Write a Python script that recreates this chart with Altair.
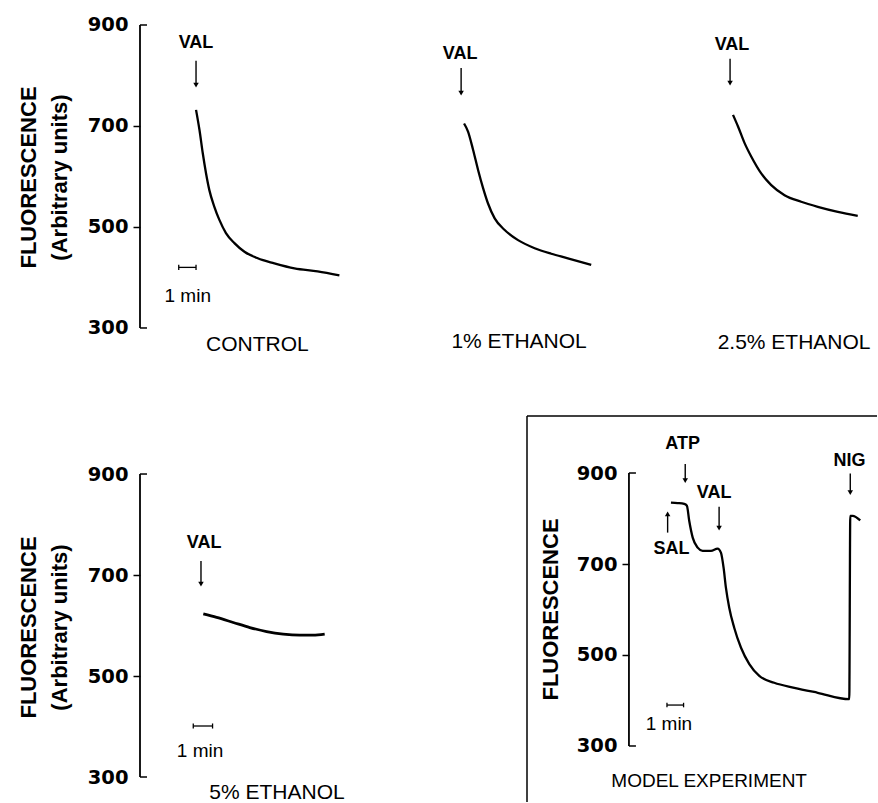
import altair as alt
import pandas as pd

# ---------------- data (time in minutes after addition, fluorescence a.u.) ----------------
ctrl_t = [0, 0.2, 0.39, 0.58, 0.77, 1.06, 1.35, 1.73, 2.22, 2.8, 3.57, 4.53, 5.69, 7.03, 8.29]
ctrl_v = [732, 692, 646, 606, 573, 540, 514, 488, 468, 451, 438, 428, 418, 412, 404]

eth1_t = [0, 0.23, 0.52, 0.81, 1.10, 1.38, 1.77, 2.35, 3.12, 4.08, 5.04, 6.0, 7.35]
eth1_v = [705, 689, 653, 613, 577, 547, 517, 494, 474, 458, 447, 438, 425]

eth25_t = [0, 0.29, 0.67, 1.06, 1.63, 2.21, 2.98, 3.94, 4.9, 6.06, 7.21]
eth25_v = [722, 699, 666, 639, 606, 583, 563, 550, 540, 530, 522]

eth5_t = [0, 0.69, 1.55, 2.41, 3.28, 4.14, 5.0, 5.69, 6.29]
eth5_v = [623, 616, 606, 596, 588, 583, 581, 581, 583]

model_t = [0, 0.4, 0.8, 0.96, 1.1, 1.31, 1.61, 1.91, 2.41, 2.81, 3.01, 3.17, 3.31, 3.51, 3.81,
           4.22, 4.72, 5.32, 6.22, 7.43, 8.84, 10.74, 10.8, 10.94, 11.4]
model_v = [835, 834, 832, 828, 795, 758, 736, 729, 729, 734, 725, 692, 648, 604, 560,
           516, 480, 454, 439, 428, 417, 403, 806, 806, 796]

y_ticks = [300, 500, 700, 900]

panel_names = ["CONTROL", "1% ETHANOL", "2.5% ETHANOL", "5% ETHANOL", "MODEL EXPERIMENT"]

# annotation anchors (minutes, fluorescence)
tags = {
    "ctrl": [("VAL", 0.0, 864)],
    "eth1": [("VAL", -0.23, 843)],
    "eth25": [("VAL", -0.06, 860)],
    "eth5": [("VAL", 0.04, 764)],
    "model": [("ATP", 0.7, 964), ("VAL", 2.6, 857), ("SAL", 0.04, 733), ("NIG", 10.75, 927)],
}
down_arrows = {
    "ctrl": [(0.0, 829, 781)],
    "eth1": [(-0.17, 815, 765)],
    "eth25": [(-0.17, 833, 785)],
    "eth5": [(-0.12, 728, 682)],
    "model": [(0.86, 920, 883), (2.9, 826, 779), (10.8, 899, 857)],
}
up_arrows = {"model": [(-0.2, 769, 810)]}
captions = {
    "ctrl": ("CONTROL", 3.55, 266),
    "eth1": ("1% ETHANOL", 3.18, 272),
    "eth25": ("2.5% ETHANOL", 3.53, 270),
    "eth5": ("5% ETHANOL", 3.82, 268),
    "model": ("MODEL EXPERIMENT", 2.3, 223),
}
bars = {  # 1 min scale bar: t start, t end, level ; label position
    "ctrl": (-1.0, 0.0, 420, -0.48, 364),
    "eth5": (-0.52, 0.48, 401, -0.17, 351),
    "model": (-0.24, 0.76, 390, -0.12, 348),
}

BLACK = "black"


def make_panel(key, t, v, xdom, ydom, w, h, ppm, axis=None, line_w=2.3, caption_size=21, box=False):
    xs = alt.Scale(domain=xdom, nice=False, zero=False)
    ys = alt.Scale(domain=ydom, nice=False, zero=False)
    if axis is None:
        y_axis = None
    else:
        y_axis = alt.Axis(
            values=y_ticks, domain=False, ticks=True, tickSize=7, tickWidth=1.5,
            tickColor={"condition": {"test": "datum.value == 500 || datum.value == 700", "value": "black"},
                       "value": "transparent"},
            labelPadding=5, labelFont="DejaVu Sans", labelFontWeight="bold", labelFontSize=19.5,
            labelColor=BLACK, grid=False,
            title=axis["title"], titleY=axis["titleY"], titlePadding=axis["titlePadding"],
            titleFont="Liberation Sans", titleFontWeight="bold", titleFontSize=22, titleColor=BLACK,
            titleLineHeight=31, offset=axis.get("offset", 0),
        )
    X = alt.X("t:Q", scale=xs, axis=None)
    Y = alt.Y("v:Q", scale=ys, axis=y_axis)

    layers = []
    layers.append(
        alt.Chart(pd.DataFrame({"t": t, "v": v}))
        .mark_line(color=BLACK, strokeWidth=line_w, interpolate="monotone")
        .encode(x=X, y=Y)
    )
    if axis is not None:
        at = axis["at"]
        cap = 7.0 / ppm
        layers.append(
            alt.Chart(pd.DataFrame({"t": [at], "v": [300], "v2": [900]}))
            .mark_rule(color=BLACK, strokeWidth=1.8)
            .encode(x=X, y=Y, y2="v2:Q")
        )
        layers.append(
            alt.Chart(pd.DataFrame({"t": [at, at], "t2": [at + cap, at + cap], "v": [300, 900]}))
            .mark_rule(color=BLACK, strokeWidth=1.5)
            .encode(x=X, x2="t2:Q", y=Y)
        )
    # tags
    tg = tags.get(key, [])
    if tg:
        layers.append(
            alt.Chart(pd.DataFrame({"label": [a[0] for a in tg], "t": [a[1] for a in tg], "v": [a[2] for a in tg]}))
            .mark_text(font="Liberation Sans", fontWeight="bold", fontSize=18, color=BLACK,
                       align="center", baseline="middle")
            .encode(x=X, y=Y, text="label:N")
        )
    da = down_arrows.get(key, [])
    if da:
        df = pd.DataFrame({"t": [a[0] for a in da], "v": [a[1] for a in da], "v2": [a[2] for a in da]})
        layers.append(alt.Chart(df).mark_rule(color=BLACK, strokeWidth=1.4).encode(x=X, y=Y, y2="v2:Q"))
        layers.append(
            alt.Chart(pd.DataFrame({"t": df["t"], "v": df["v2"]}))
            .mark_point(shape="triangle-down", filled=True, size=30, color=BLACK, opacity=1)
            .encode(x=X, y=Y)
        )
    ua = up_arrows.get(key, [])
    if ua:
        df = pd.DataFrame({"t": [a[0] for a in ua], "v": [a[1] for a in ua], "v2": [a[2] for a in ua]})
        layers.append(alt.Chart(df).mark_rule(color=BLACK, strokeWidth=1.4).encode(x=X, y=Y, y2="v2:Q"))
        layers.append(
            alt.Chart(pd.DataFrame({"t": df["t"], "v": df["v2"]}))
            .mark_point(shape="triangle-up", filled=True, size=30, color=BLACK, opacity=1)
            .encode(x=X, y=Y)
        )
    # caption
    c = captions[key]
    layers.append(
        alt.Chart(pd.DataFrame({"label": [c[0]], "t": [c[1]], "v": [c[2]]}))
        .mark_text(font="Liberation Sans", fontSize=caption_size, color=BLACK, align="center", baseline="middle")
        .encode(x=X, y=Y, text="label:N")
    )
    # scale bar
    if key in bars:
        b0, b1, lvl, lt, lv = bars[key]
        layers.append(
            alt.Chart(pd.DataFrame({"t": [b0], "t2": [b1], "v": [lvl]}))
            .mark_rule(color=BLACK, strokeWidth=1.3).encode(x=X, x2="t2:Q", y=Y)
        )
        dv = 5.0
        layers.append(
            alt.Chart(pd.DataFrame({"t": [b0, b1], "v": [lvl - dv, lvl - dv], "v2": [lvl + dv, lvl + dv]}))
            .mark_rule(color=BLACK, strokeWidth=1.3).encode(x=X, y=Y, y2="v2:Q")
        )
        layers.append(
            alt.Chart(pd.DataFrame({"label": ["1 min"], "t": [lt], "v": [lv]}))
            .mark_text(font="Liberation Sans", fontSize=19, color=BLACK, align="center", baseline="middle")
            .encode(x=X, y=Y, text="label:N")
        )
    if box:
        layers.append(
            alt.Chart(pd.DataFrame({"t": [xdom[0]]})).mark_rule(color=BLACK, strokeWidth=1.5)
            .encode(x=alt.value(0), y=alt.value(0), y2=alt.value(h))
        )
        layers.append(
            alt.Chart(pd.DataFrame({"t": [xdom[0]]})).mark_rule(color=BLACK, strokeWidth=1.5)
            .encode(x=alt.value(0), x2=alt.value(w), y=alt.value(0))
        )
    return alt.layer(*layers).properties(width=w, height=h)


# top row: 17.3 px per minute, 0.505 px per unit
top_dom = [236.6, 929.7]
p1 = make_panel("ctrl", ctrl_t, ctrl_v, [-3.24, 9.25], top_dom, 216, 350, 17.3,
                axis={"title": ["FLUORESCENCE", "(Arbitrary units)"], "titleY": 167, "titlePadding": 16, "at": -3.24})
p2 = make_panel("eth1", eth1_t, eth1_v, [-5.09, 8.32], top_dom, 232, 350, 17.3)
p3 = make_panel("eth25", eth25_t, eth25_v, [-6.07, 8.15], top_dom, 246, 350, 17.3)

p4 = make_panel("eth5", eth5_t, eth5_v, [-3.28, 8.12], [250.5, 1014.9], 220, 386, 19.3,
                axis={"title": ["FLUORESCENCE", "(Arbitrary units)"], "titleY": 211, "titlePadding": 16, "at": -3.28},
                line_w=2.8)
p5 = make_panel("model", model_t, model_v, [-8.67, 12.41], [176.9, 1025.3], 350, 386, 16.6,
                axis={"title": "FLUORESCENCE", "titleY": 193, "titlePadding": 14, "at": -2.53, "offset": -102},
                caption_size=19, box=True)

row1 = alt.hconcat(p1, p2, p3, spacing=20)
row2 = alt.hconcat(p4, p5, spacing=166)

chart = (
    alt.vconcat(row1, row2, spacing=55)
    .properties(padding={"left": 17, "top": 10, "right": 0, "bottom": 0}, background="white")
    .configure_view(stroke=None)
)

chart.save("out.html", embed_options={"renderer": "svg", "actions": False})
